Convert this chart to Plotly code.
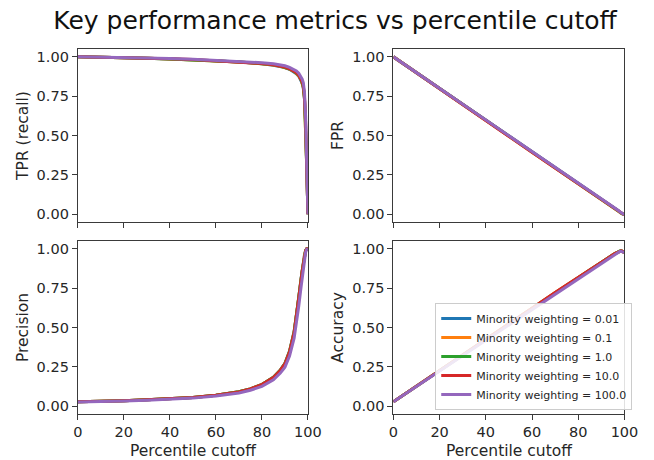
import plotly.graph_objects as go

# Percentile cutoff grid
percentile = [0, 5, 10, 20, 30, 40, 50, 60, 70, 75, 80, 85, 88, 90, 92, 94, 95, 96, 97, 97.5, 98, 98.5, 99, 99.5, 100]

series_names = ["Minority weighting = 0.01", "Minority weighting = 0.1", "Minority weighting = 1.0",
                "Minority weighting = 10.0", "Minority weighting = 100.0"]
series_colors = ["#1f77b4", "#ff7f0e", "#2ca02c", "#d62728", "#9467bd"]

# TPR (recall)
tpr_001 = [1.000, 0.999, 0.998, 0.995, 0.991, 0.987, 0.982, 0.975, 0.967, 0.962, 0.956, 0.947, 0.939, 0.932, 0.921, 0.905, 0.893, 0.877, 0.852, 0.832, 0.800, 0.730, 0.560, 0.280, 0.000]
tpr_01 = [1.000, 0.999, 0.998, 0.995, 0.991, 0.987, 0.982, 0.975, 0.968, 0.963, 0.957, 0.948, 0.940, 0.933, 0.922, 0.907, 0.895, 0.879, 0.855, 0.835, 0.805, 0.735, 0.565, 0.285, 0.000]
tpr_1 = [1.000, 0.999, 0.998, 0.995, 0.991, 0.987, 0.982, 0.976, 0.968, 0.963, 0.957, 0.949, 0.941, 0.934, 0.923, 0.908, 0.897, 0.882, 0.858, 0.838, 0.810, 0.740, 0.570, 0.290, 0.000]
tpr_10 = [1.000, 0.999, 0.998, 0.995, 0.992, 0.988, 0.983, 0.976, 0.969, 0.964, 0.958, 0.950, 0.942, 0.935, 0.924, 0.910, 0.899, 0.884, 0.861, 0.842, 0.815, 0.748, 0.580, 0.300, 0.000]
tpr_100 = [1.000, 0.999, 0.998, 0.996, 0.993, 0.990, 0.985, 0.979, 0.972, 0.968, 0.963, 0.956, 0.949, 0.943, 0.933, 0.920, 0.910, 0.896, 0.875, 0.858, 0.835, 0.775, 0.620, 0.340, 0.000]

# FPR
fpr_001 = [1.000, 0.950, 0.900, 0.800, 0.699, 0.598, 0.497, 0.396, 0.296, 0.246, 0.196, 0.146, 0.117, 0.097, 0.078, 0.057, 0.047, 0.036, 0.026, 0.020, 0.013, 0.007, 0.002, 0.000, -0.002]
fpr_01 = [1.000, 0.949, 0.899, 0.798, 0.697, 0.596, 0.495, 0.394, 0.294, 0.244, 0.194, 0.144, 0.115, 0.096, 0.077, 0.056, 0.046, 0.035, 0.025, 0.019, 0.012, 0.006, 0.002, 0.000, -0.002]
fpr_1 = [1.000, 0.950, 0.899, 0.799, 0.698, 0.597, 0.496, 0.395, 0.295, 0.245, 0.195, 0.145, 0.116, 0.096, 0.077, 0.056, 0.046, 0.036, 0.026, 0.019, 0.013, 0.006, 0.002, 0.000, -0.002]
fpr_10 = [1.000, 0.949, 0.898, 0.797, 0.696, 0.595, 0.494, 0.393, 0.293, 0.243, 0.193, 0.144, 0.115, 0.095, 0.076, 0.056, 0.046, 0.035, 0.025, 0.019, 0.012, 0.006, 0.002, 0.000, -0.002]
fpr_100 = [1.000, 0.950, 0.900, 0.801, 0.701, 0.601, 0.501, 0.401, 0.301, 0.251, 0.201, 0.151, 0.121, 0.101, 0.081, 0.060, 0.050, 0.039, 0.029, 0.022, 0.015, 0.009, 0.004, 0.001, -0.002]

# Precision
prec_001 = [0.028, 0.029, 0.031, 0.035, 0.040, 0.046, 0.055, 0.069, 0.091, 0.110, 0.138, 0.184, 0.230, 0.272, 0.350, 0.475, 0.575, 0.690, 0.810, 0.865, 0.915, 0.960, 0.990, 1.000, 1.000]
prec_01 = [0.028, 0.029, 0.031, 0.035, 0.040, 0.046, 0.055, 0.069, 0.091, 0.110, 0.138, 0.183, 0.229, 0.271, 0.348, 0.472, 0.572, 0.686, 0.806, 0.862, 0.912, 0.958, 0.989, 1.000, 1.000]
prec_1 = [0.028, 0.029, 0.031, 0.035, 0.040, 0.046, 0.055, 0.069, 0.091, 0.110, 0.137, 0.183, 0.228, 0.270, 0.346, 0.470, 0.570, 0.684, 0.803, 0.860, 0.910, 0.957, 0.989, 1.000, 1.000]
prec_10 = [0.028, 0.029, 0.031, 0.035, 0.040, 0.046, 0.055, 0.069, 0.090, 0.109, 0.137, 0.182, 0.227, 0.268, 0.344, 0.466, 0.566, 0.680, 0.798, 0.856, 0.906, 0.954, 0.988, 1.000, 1.000]
prec_100 = [0.026, 0.027, 0.029, 0.033, 0.037, 0.043, 0.051, 0.064, 0.084, 0.101, 0.126, 0.168, 0.210, 0.248, 0.318, 0.432, 0.525, 0.635, 0.755, 0.818, 0.875, 0.932, 0.978, 0.998, 1.000]

# Accuracy
acc_001 = [0.028, 0.078, 0.127, 0.226, 0.325, 0.424, 0.522, 0.621, 0.720, 0.769, 0.818, 0.867, 0.896, 0.915, 0.934, 0.953, 0.962, 0.971, 0.979, 0.983, 0.986, 0.987, 0.985, 0.981, 0.976]
acc_01 = [0.028, 0.078, 0.128, 0.227, 0.326, 0.425, 0.524, 0.623, 0.722, 0.771, 0.820, 0.868, 0.897, 0.916, 0.935, 0.953, 0.962, 0.971, 0.979, 0.983, 0.986, 0.987, 0.985, 0.981, 0.976]
acc_1 = [0.028, 0.078, 0.127, 0.226, 0.325, 0.424, 0.523, 0.622, 0.721, 0.770, 0.819, 0.867, 0.896, 0.915, 0.934, 0.953, 0.962, 0.971, 0.979, 0.983, 0.986, 0.987, 0.985, 0.981, 0.976]
acc_10 = [0.028, 0.078, 0.128, 0.227, 0.326, 0.425, 0.524, 0.623, 0.722, 0.771, 0.820, 0.868, 0.897, 0.916, 0.935, 0.953, 0.962, 0.971, 0.979, 0.983, 0.986, 0.987, 0.985, 0.981, 0.976]
acc_100 = [0.028, 0.077, 0.126, 0.224, 0.322, 0.419, 0.516, 0.614, 0.712, 0.761, 0.810, 0.859, 0.889, 0.908, 0.928, 0.947, 0.957, 0.967, 0.976, 0.980, 0.984, 0.985, 0.984, 0.980, 0.976]

metrics = [
    ("TPR (recall)", [tpr_001, tpr_01, tpr_1, tpr_10, tpr_100]),
    ("FPR", [fpr_001, fpr_01, fpr_1, fpr_10, fpr_100]),
    ("Precision", [prec_001, prec_01, prec_1, prec_10, prec_100]),
    ("Accuracy", [acc_001, acc_01, acc_1, acc_10, acc_100]),
]

W, H = 654, 460
# panel pixel boxes (left, right, top, bottom)
boxes = [(75, 312, 49, 222), (400, 638, 49, 222), (75, 312, 241, 414), (400, 638, 241, 414)]

fig = go.Figure()
font_family = "DejaVu Sans"
text_color = "#262626"
line_color = "#3a3a3a"

layout = dict(
    width=W, height=H,
    margin=dict(l=0, r=0, t=0, b=0),
    plot_bgcolor="white", paper_bgcolor="white",
    font=dict(family=font_family, size=14.5, color=text_color),
    title=dict(text="Key performance metrics vs percentile cutoff", x=335 / W, xanchor="center",
               y=1 - 20 / H, yanchor="middle", yref="container",
               font=dict(family=font_family, size=25, color="#111111")),
    showlegend=True,
    legend=dict(x=646 / W, xanchor="right", y=1 - 410 / H, yanchor="bottom",
                bgcolor="rgba(255,255,255,0.85)", bordercolor="#cccccc", borderwidth=1,
                font=dict(family=font_family, size=11, color=text_color),
                tracegroupgap=0, itemwidth=30),
)

for i, (ylabel, ys) in enumerate(metrics):
    l, r, t, b = boxes[i]
    suffix = "" if i == 0 else str(i + 1)
    bottom_row = i >= 2
    layout["xaxis" + suffix] = dict(
        domain=[l / W, r / W], anchor="y" + suffix, range=[0, 100],
        tickvals=[0, 20, 40, 60, 80, 100], showticklabels=bottom_row,
        ticks="outside", ticklen=5, tickcolor=line_color, showline=True, mirror=True,
        linecolor=line_color, linewidth=1, showgrid=False, zeroline=False,
        title=dict(text="Percentile cutoff" if bottom_row else "", font=dict(size=15.5), standoff=6),
        tickfont=dict(size=14.5),
    )
    layout["yaxis" + suffix] = dict(
        domain=[1 - b / H, 1 - t / H], anchor="x" + suffix, range=[-0.05, 1.05],
        tickvals=[0, 0.25, 0.5, 0.75, 1.0], ticktext=["0.00", "0.25", "0.50", "0.75", "1.00"],
        ticks="outside", ticklen=5, tickcolor=line_color, showline=True, mirror=True,
        linecolor=line_color, linewidth=1, showgrid=False, zeroline=False,
        title=dict(text=ylabel, font=dict(size=15.5), standoff=4),
        tickfont=dict(size=14.5),
    )
    for j, yv in enumerate(ys):
        fig.add_trace(go.Scatter(
            x=percentile, y=yv, mode="lines", name=series_names[j],
            line=dict(color=series_colors[j], width=3),
            xaxis="x" + suffix, yaxis="y" + suffix,
            showlegend=(i == 3), legendgroup=series_names[j],
        ))

fig.update_layout(**layout)
fig.write_html("out.html")
